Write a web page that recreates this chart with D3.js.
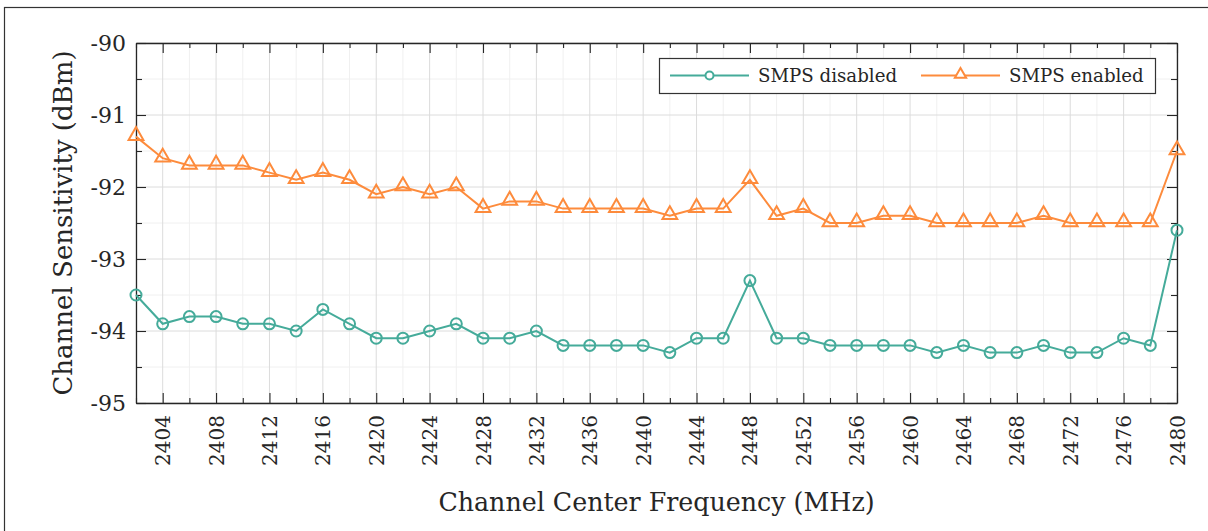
<!DOCTYPE html>
<html>
<head>
<meta charset="utf-8">
<script src="https://cdn.jsdelivr.net/npm/d3@7"></script>
<style>
  html, body { margin: 0; padding: 0; background: #fff; }
  svg { display: block; }
  text { font-family: "DejaVu Serif", serif; fill: #262626; }
</style>
</head>
<body>
<svg id="chart" width="1208" height="531"></svg>
<script>
// Channel centre frequencies (MHz), 2 MHz spacing
const channels = [2402, 2404, 2406, 2408, 2410, 2412, 2414, 2416, 2418, 2420,
                  2422, 2424, 2426, 2428, 2430, 2432, 2434, 2436, 2438, 2440,
                  2442, 2444, 2446, 2448, 2450, 2452, 2454, 2456, 2458, 2460,
                  2462, 2464, 2466, 2468, 2470, 2472, 2474, 2476, 2478, 2480];

// Sensitivity (dBm) with the switched-mode supply off
const smpsDisabled = [-93.5, -93.9, -93.8, -93.8, -93.9, -93.9, -94.0, -93.7, -93.9, -94.1,
                      -94.1, -94.0, -93.9, -94.1, -94.1, -94.0, -94.2, -94.2, -94.2, -94.2,
                      -94.3, -94.1, -94.1, -93.3, -94.1, -94.1, -94.2, -94.2, -94.2, -94.2,
                      -94.3, -94.2, -94.3, -94.3, -94.2, -94.3, -94.3, -94.1, -94.2, -92.6];

// Sensitivity (dBm) with the switched-mode supply on
const smpsEnabled = [-91.3, -91.6, -91.7, -91.7, -91.7, -91.8, -91.9, -91.8, -91.9, -92.1,
                     -92.0, -92.1, -92.0, -92.3, -92.2, -92.2, -92.3, -92.3, -92.3, -92.3,
                     -92.4, -92.3, -92.3, -91.9, -92.4, -92.3, -92.5, -92.5, -92.4, -92.4,
                     -92.5, -92.5, -92.5, -92.5, -92.4, -92.5, -92.5, -92.5, -92.5, -91.5];

const xTickLabels = [2404, 2408, 2412, 2416, 2420, 2424, 2428, 2432, 2436, 2440,
                     2444, 2448, 2452, 2456, 2460, 2464, 2468, 2472, 2476, 2480];
const yTickLabels = [-95, -94, -93, -92, -91, -90];

const seriesNames = ["SMPS disabled", "SMPS enabled"];
const colors = ["#45ab9a", "#fd8b3c"];

const FONT = "DejaVu Serif, serif";
const svg = d3.select("#chart");
const W = 1208, H = 531;
const m = { left: 136, right: 1177, top: 43, bottom: 403 };

// figure frame
svg.append("rect")
  .attr("x", 4.5).attr("y", 7.5)
  .attr("width", W + 10).attr("height", H + 10)
  .attr("fill", "none").attr("stroke", "#333").attr("stroke-width", 1.2);

const x = d3.scaleLinear().domain([2402, 2480]).range([m.left, m.right]);
const y = d3.scaleLinear().domain([-95, -90]).range([m.bottom, m.top]);

const minorX = d3.range(2402, 2481, 2).filter(v => !xTickLabels.includes(v));
const minorY = d3.range(-95, -89.99, 0.5).filter(v => !yTickLabels.includes(v));

const grid = svg.append("g");
// minor grid
grid.selectAll(".mx").data(minorX)
  .join("line")
  .attr("x1", d => x(d)).attr("x2", d => x(d))
  .attr("y1", m.top).attr("y2", m.bottom)
  .attr("stroke", "#f0f0f0").attr("stroke-width", 1);
grid.selectAll(".my").data(minorY)
  .join("line")
  .attr("y1", d => y(d)).attr("y2", d => y(d))
  .attr("x1", m.left).attr("x2", m.right)
  .attr("stroke", "#f0f0f0").attr("stroke-width", 1);
// major grid
grid.selectAll(".Mx").data(xTickLabels)
  .join("line")
  .attr("x1", d => x(d)).attr("x2", d => x(d))
  .attr("y1", m.top).attr("y2", m.bottom)
  .attr("stroke", "#dcdcdc").attr("stroke-width", 1);
grid.selectAll(".My").data(yTickLabels)
  .join("line")
  .attr("y1", d => y(d)).attr("y2", d => y(d))
  .attr("x1", m.left).attr("x2", m.right)
  .attr("stroke", "#dcdcdc").attr("stroke-width", 1);

// axes: major ticks 10px inward, minor ticks 5px inward
const axisColor = "#262626";
function addAxis(gen, transform) {
  const g = svg.append("g").attr("transform", transform).call(gen);
  g.attr("font-family", FONT);
  g.select(".domain").attr("stroke", axisColor).attr("stroke-width", 1.3);
  g.selectAll(".tick line").attr("stroke", axisColor).attr("stroke-width", 1.1);
  return g;
}

// bottom
const xb = addAxis(d3.axisBottom(x).tickValues(xTickLabels).tickSizeInner(-10).tickSizeOuter(0).tickFormat(d => d),
  `translate(0,${m.bottom})`);
xb.selectAll(".tick text")
  .attr("transform", "rotate(-90)")
  .attr("x", -12).attr("y", 0).attr("dy", "0.35em")
  .attr("text-anchor", "end")
  .attr("font-size", 20).attr("fill", axisColor);
addAxis(d3.axisBottom(x).tickValues(minorX).tickSizeInner(-5).tickSizeOuter(0).tickFormat(""),
  `translate(0,${m.bottom})`).select(".domain").remove();
// top
addAxis(d3.axisTop(x).tickValues(xTickLabels).tickSizeInner(-10).tickSizeOuter(0).tickFormat(""),
  `translate(0,${m.top})`);
addAxis(d3.axisTop(x).tickValues(minorX).tickSizeInner(-5).tickSizeOuter(0).tickFormat(""),
  `translate(0,${m.top})`).select(".domain").remove();
// left
const yl = addAxis(d3.axisLeft(y).tickValues(yTickLabels).tickSizeInner(-10).tickSizeOuter(0),
  `translate(${m.left},0)`);
yl.selectAll(".tick text")
  .attr("x", -10)
  .text(d => String(d))
  .attr("font-size", 22).attr("fill", axisColor);
addAxis(d3.axisLeft(y).tickValues(minorY).tickSizeInner(-6).tickSizeOuter(0).tickFormat(""),
  `translate(${m.left},0)`).select(".domain").remove();
// right
addAxis(d3.axisRight(y).tickValues(yTickLabels).tickSizeInner(-10).tickSizeOuter(0).tickFormat(""),
  `translate(${m.right},0)`);
addAxis(d3.axisRight(y).tickValues(minorY).tickSizeInner(-6).tickSizeOuter(0).tickFormat(""),
  `translate(${m.right},0)`).select(".domain").remove();

// series
const series = [smpsDisabled, smpsEnabled];
const line = d3.line().x((d, i) => x(channels[i])).y(d => y(d));
const tri = d3.symbol().type(d3.symbolTriangle).size(95);

series.forEach((vals, s) => {
  svg.append("path").datum(vals)
    .attr("d", line)
    .attr("fill", "none").attr("stroke", colors[s]).attr("stroke-width", 2);
  const g = svg.append("g");
  if (s === 0) {
    g.selectAll("circle").data(vals).join("circle")
      .attr("cx", (d, i) => x(channels[i])).attr("cy", d => y(d))
      .attr("r", 5.5)
      .attr("fill", "none").attr("stroke", colors[s]).attr("stroke-width", 2);
  } else {
    g.selectAll("path").data(vals).join("path")
      .attr("d", tri)
      .attr("transform", (d, i) => `translate(${x(channels[i])},${y(d) - 1})`)
      .attr("fill", "none").attr("stroke", colors[s]).attr("stroke-width", 2);
  }
});

// axis titles
svg.append("text")
  .attr("x", (m.left + m.right) / 2).attr("y", 511)
  .attr("text-anchor", "middle")
  .attr("font-size", 25.3)
  .text("Channel Center Frequency (MHz)");
svg.append("text")
  .attr("transform", `translate(72,${(m.top + m.bottom) / 2}) rotate(-90)`)
  .attr("text-anchor", "middle")
  .attr("font-size", 26)
  .text("Channel Sensitivity (dBm)");

// legend
const lg = svg.append("g");
lg.append("rect")
  .attr("x", 659.5).attr("y", 58.5).attr("width", 496).attr("height", 35)
  .attr("fill", "#fff").attr("stroke", "#333").attr("stroke-width", 1.2);
const legendItems = [
  { x0: 670, x1: 749, tx: 758 },
  { x0: 921, x1: 1000, tx: 1009 }
];
legendItems.forEach((it, s) => {
  lg.append("line").attr("x1", it.x0).attr("x2", it.x1).attr("y1", 75.5).attr("y2", 75.5)
    .attr("stroke", colors[s]).attr("stroke-width", 2);
  const cx = (it.x0 + it.x1) / 2;
  if (s === 0) {
    lg.append("circle").attr("cx", cx).attr("cy", 75.5).attr("r", 4)
      .attr("fill", "#fff").attr("stroke", colors[s]).attr("stroke-width", 2);
  } else {
    lg.append("path").attr("d", d3.symbol().type(d3.symbolTriangle).size(55))
      .attr("transform", `translate(${cx},74.5)`)
      .attr("fill", "#fff").attr("stroke", colors[s]).attr("stroke-width", 2);
  }
  lg.append("text").attr("x", it.tx).attr("y", 82)
    .attr("font-size", 18.2).text(seriesNames[s]);
});
</script>
</body>
</html>
